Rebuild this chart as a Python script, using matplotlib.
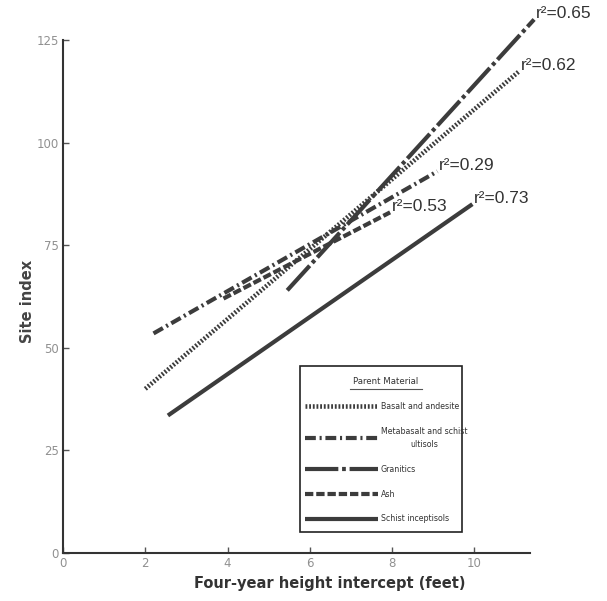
import matplotlib
matplotlib.use("Agg")
import matplotlib.pyplot as plt
from matplotlib.lines import Line2D
from matplotlib.patches import Rectangle

# ---- data ----
series = ["Basalt and andesite", "Metabasalt and schist\nultisols", "Granitics", "Ash", "Schist inceptisols"]
x_start = [2.0, 2.2, 5.45, 3.9, 2.55]
x_end = [11.1, 9.1, 11.45, 7.95, 9.95]
y_start = [40.0, 53.5, 64.0, 62.0, 33.5]
y_end = [117.5, 93.0, 130.0, 83.0, 85.0]
r2_labels = ["r²=0.62", "r²=0.29", "r²=0.65", "r²=0.53", "r²=0.73"]
x_ticks = [0, 2, 4, 6, 8, 10]
y_ticks = [0, 25, 50, 75, 100, 125]

# ---- styles ----
col = "#3c3c3c"
styles = [
    dict(linestyle=(0, (0.4, 0.4)), lw=3.3),
    dict(linestyle=(0, (2.6, 0.9, 0.5, 0.9)), lw=3.0),
    dict(linestyle=(0, (8.0, 0.9, 0.9, 0.9)), lw=3.0),
    dict(linestyle=(0, (2.0, 0.7)), lw=3.0),
    dict(linestyle="-", lw=3.0),
]

fig = plt.figure(figsize=(6.07, 6.01), dpi=100)
ax = fig.add_axes([63 / 607, 1 - 553 / 601, (530 - 63) / 607, (553 - 40) / 601])

handles = []
for i, name in enumerate(series):
    ax.plot([x_start[i], x_end[i]], [y_start[i], y_end[i]], color=col,
            solid_capstyle="butt", dash_capstyle="butt", clip_on=False,
            **styles[i])
    handles.append(Line2D([0], [0], color=col, dash_capstyle="butt",
                          solid_capstyle="butt", **styles[i]))
    ax.annotate(r2_labels[i], (x_end[i], y_end[i]), xytext=(1, 4),
                textcoords="offset points", ha="left", va="center",
                fontsize=12.5, color="#333333", family="Liberation Sans",
                annotation_clip=False)

ax.set_xlim(0, 11.35)
ax.set_ylim(0, 125)
ax.set_xticks(x_ticks)
ax.set_yticks(y_ticks)
ax.tick_params(direction="in", length=4, width=1, colors="#555555",
               labelcolor="#909090", labelsize=8.5)
ax.tick_params(axis="y", pad=3)
ax.tick_params(axis="x", pad=3)
for s in ["top", "right"]:
    ax.spines[s].set_visible(False)
for s in ["left", "bottom"]:
    ax.spines[s].set_color("#333333")
    ax.spines[s].set_linewidth(1.5)

ax.set_xlabel("Four-year height intercept (feet)", fontsize=10.5, fontweight="bold",
              color="#333333")
ax.xaxis.set_label_coords((330 - 63) / 467, -23 / 513)
ax.set_ylabel("Site index", fontsize=10.5, fontweight="semibold", color="#444444")
ax.yaxis.set_label_coords(-28 / 467, 0.49)

# legend frame
ax.add_patch(Rectangle(((300 - 63) / 467, (553 - 532) / 513), 162 / 467, 166 / 513,
                       transform=ax.transAxes, fill=False, edgecolor="#222222",
                       lw=1.2, clip_on=False))

leg = ax.legend(handles, series, title="Parent Material",
                loc="upper left", bbox_to_anchor=((305 - 63) / 467, (553 - 377) / 513),
                fontsize=5.7, title_fontsize=6.2,
                handlelength=9.2, handletextpad=0.35, borderpad=0,
                labelspacing=2.0, frameon=False, borderaxespad=0)
leg.get_title().set_color("#333333")
for t in leg.get_texts():
    t.set_color("#333333")
    t.set_multialignment("center")
    t.set_linespacing(1.6)

fig.canvas.draw()
tb = leg.get_title().get_window_extent()
inv = fig.transFigure.inverted()
(x0, y0), (x1, y1) = inv.transform([(tb.x0 - 3, tb.y0 - 3), (tb.x1 + 3, tb.y0 - 3)])
fig.add_artist(Line2D([x0, x1], [y0, y1], color="#555555", lw=0.8))

fig.savefig("out.png", dpi=100)
